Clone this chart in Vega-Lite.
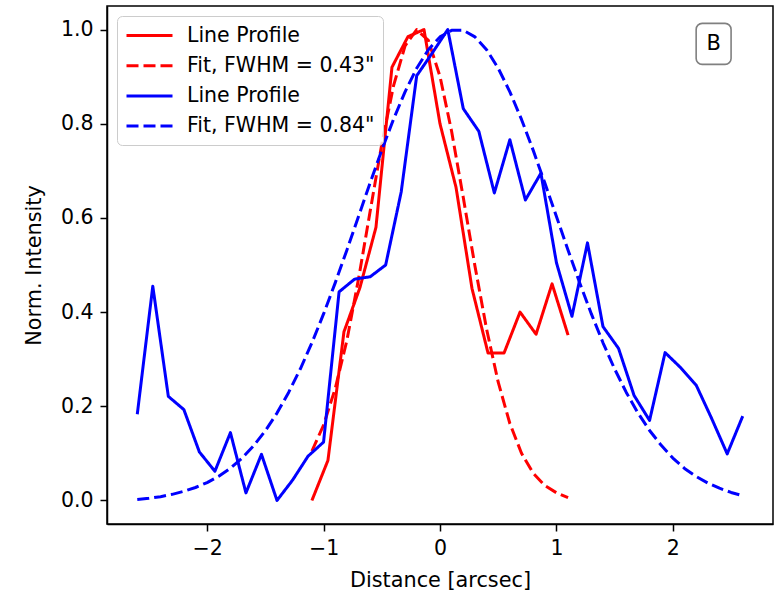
{
  "$schema": "https://vega.github.io/schema/vega-lite/v6.json",
  "width": 666,
  "height": 518,
  "autosize": {"type": "none"},
  "padding": {"left": 107, "top": 6, "right": 8, "bottom": 72},
  "background": "white",
  "config": {
    "view": {"stroke": "black", "strokeWidth": 1.5},
    "font": "DejaVu Sans",
    "axis": {
      "grid": false,
      "domainColor": "black",
      "domainWidth": 1.5,
      "tickColor": "black",
      "tickWidth": 1.5,
      "tickSize": 7,
      "labelColor": "black",
      "titleColor": "black",
      "labelFont": "DejaVu Sans",
      "titleFont": "DejaVu Sans",
      "labelFontSize": 20.5,
      "titleFontSize": 20.8,
      "titleFontWeight": "normal",
      "labelPadding": 7
    },
    "legend": {"rowPadding": 8.2}
  },
  "layer": [
    {
      "data": {
        "values": [
          {"s": "1", "x": -1.1, "y": 0.0},
          {"s": "1", "x": -0.9625, "y": 0.085},
          {"s": "1", "x": -0.825, "y": 0.358},
          {"s": "1", "x": -0.6875, "y": 0.452},
          {"s": "1", "x": -0.55, "y": 0.58},
          {"s": "1", "x": -0.4125, "y": 0.92},
          {"s": "1", "x": -0.275, "y": 0.985},
          {"s": "1", "x": -0.1375, "y": 1.0},
          {"s": "1", "x": 0.0, "y": 0.8},
          {"s": "1", "x": 0.1375, "y": 0.665},
          {"s": "1", "x": 0.275, "y": 0.45},
          {"s": "1", "x": 0.4125, "y": 0.313},
          {"s": "1", "x": 0.55, "y": 0.313},
          {"s": "1", "x": 0.6875, "y": 0.4},
          {"s": "1", "x": 0.825, "y": 0.353},
          {"s": "1", "x": 0.9625, "y": 0.46},
          {"s": "1", "x": 1.1, "y": 0.351},

          {"s": "2", "x": -1.1, "y": 0.105},
          {"s": "2", "x": -1.0, "y": 0.16},
          {"s": "2", "x": -0.9, "y": 0.2375},
          {"s": "2", "x": -0.8, "y": 0.3396},
          {"s": "2", "x": -0.7, "y": 0.47},
          {"s": "2", "x": -0.6, "y": 0.6139},
          {"s": "2", "x": -0.5, "y": 0.7566},
          {"s": "2", "x": -0.4, "y": 0.8798},
          {"s": "2", "x": -0.3, "y": 0.9655},
          {"s": "2", "x": -0.2, "y": 0.9997},
          {"s": "2", "x": -0.1, "y": 0.9768},
          {"s": "2", "x": 0.0, "y": 0.9005},
          {"s": "2", "x": 0.1, "y": 0.7834},
          {"s": "2", "x": 0.2, "y": 0.6431},
          {"s": "2", "x": 0.3, "y": 0.4981},
          {"s": "2", "x": 0.4, "y": 0.3641},
          {"s": "2", "x": 0.5, "y": 0.2511},
          {"s": "2", "x": 0.6, "y": 0.1634},
          {"s": "2", "x": 0.7, "y": 0.1003},
          {"s": "2", "x": 0.8, "y": 0.0581},
          {"s": "2", "x": 0.9, "y": 0.0318},
          {"s": "2", "x": 1.0, "y": 0.0164},
          {"s": "2", "x": 1.1, "y": 0.006},

          {"s": "3", "x": -2.6, "y": 0.183},
          {"s": "3", "x": -2.4667, "y": 0.455},
          {"s": "3", "x": -2.3333, "y": 0.221},
          {"s": "3", "x": -2.2, "y": 0.193},
          {"s": "3", "x": -2.0667, "y": 0.103},
          {"s": "3", "x": -1.9333, "y": 0.062},
          {"s": "3", "x": -1.8, "y": 0.144},
          {"s": "3", "x": -1.6667, "y": 0.016},
          {"s": "3", "x": -1.5333, "y": 0.098},
          {"s": "3", "x": -1.4, "y": 0.0},
          {"s": "3", "x": -1.2667, "y": 0.043},
          {"s": "3", "x": -1.1333, "y": 0.094},
          {"s": "3", "x": -1.0, "y": 0.124},
          {"s": "3", "x": -0.8667, "y": 0.443},
          {"s": "3", "x": -0.7333, "y": 0.47},
          {"s": "3", "x": -0.6, "y": 0.475},
          {"s": "3", "x": -0.4667, "y": 0.5},
          {"s": "3", "x": -0.3333, "y": 0.655},
          {"s": "3", "x": -0.2, "y": 0.902},
          {"s": "3", "x": -0.0667, "y": 0.95},
          {"s": "3", "x": 0.0667, "y": 1.0},
          {"s": "3", "x": 0.2, "y": 0.832},
          {"s": "3", "x": 0.3333, "y": 0.784},
          {"s": "3", "x": 0.4667, "y": 0.653},
          {"s": "3", "x": 0.6, "y": 0.766},
          {"s": "3", "x": 0.7333, "y": 0.638},
          {"s": "3", "x": 0.8667, "y": 0.695},
          {"s": "3", "x": 1.0, "y": 0.505},
          {"s": "3", "x": 1.1333, "y": 0.391},
          {"s": "3", "x": 1.2667, "y": 0.547},
          {"s": "3", "x": 1.4, "y": 0.369},
          {"s": "3", "x": 1.5333, "y": 0.323},
          {"s": "3", "x": 1.6667, "y": 0.223},
          {"s": "3", "x": 1.8, "y": 0.17},
          {"s": "3", "x": 1.9333, "y": 0.314},
          {"s": "3", "x": 2.0667, "y": 0.282},
          {"s": "3", "x": 2.2, "y": 0.245},
          {"s": "3", "x": 2.3333, "y": 0.174},
          {"s": "3", "x": 2.4667, "y": 0.099},
          {"s": "3", "x": 2.6, "y": 0.179},

          {"s": "4", "x": -2.6, "y": 0.002},
          {"s": "4", "x": -2.5, "y": 0.0045},
          {"s": "4", "x": -2.4, "y": 0.008},
          {"s": "4", "x": -2.3, "y": 0.013},
          {"s": "4", "x": -2.2, "y": 0.0195},
          {"s": "4", "x": -2.1, "y": 0.0275},
          {"s": "4", "x": -2.0, "y": 0.038},
          {"s": "4", "x": -1.9, "y": 0.0515},
          {"s": "4", "x": -1.8, "y": 0.0685},
          {"s": "4", "x": -1.7, "y": 0.09},
          {"s": "4", "x": -1.6, "y": 0.1165},
          {"s": "4", "x": -1.5, "y": 0.148},
          {"s": "4", "x": -1.4, "y": 0.1855},
          {"s": "4", "x": -1.3, "y": 0.2294},
          {"s": "4", "x": -1.2, "y": 0.2791},
          {"s": "4", "x": -1.1, "y": 0.3348},
          {"s": "4", "x": -1.0, "y": 0.3961},
          {"s": "4", "x": -0.9, "y": 0.462},
          {"s": "4", "x": -0.8, "y": 0.5315},
          {"s": "4", "x": -0.7, "y": 0.603},
          {"s": "4", "x": -0.6, "y": 0.6744},
          {"s": "4", "x": -0.5, "y": 0.7439},
          {"s": "4", "x": -0.4, "y": 0.8091},
          {"s": "4", "x": -0.3, "y": 0.8678},
          {"s": "4", "x": -0.2, "y": 0.9178},
          {"s": "4", "x": -0.1, "y": 0.9572},
          {"s": "4", "x": 0.0, "y": 0.9844},
          {"s": "4", "x": 0.1, "y": 0.9983},
          {"s": "4", "x": 0.2, "y": 0.9983},
          {"s": "4", "x": 0.3, "y": 0.9844},
          {"s": "4", "x": 0.4, "y": 0.9572},
          {"s": "4", "x": 0.5, "y": 0.9178},
          {"s": "4", "x": 0.6, "y": 0.8678},
          {"s": "4", "x": 0.7, "y": 0.8091},
          {"s": "4", "x": 0.8, "y": 0.7439},
          {"s": "4", "x": 0.9, "y": 0.6744},
          {"s": "4", "x": 1.0, "y": 0.603},
          {"s": "4", "x": 1.1, "y": 0.5315},
          {"s": "4", "x": 1.2, "y": 0.462},
          {"s": "4", "x": 1.3, "y": 0.3961},
          {"s": "4", "x": 1.4, "y": 0.3348},
          {"s": "4", "x": 1.5, "y": 0.2791},
          {"s": "4", "x": 1.6, "y": 0.2294},
          {"s": "4", "x": 1.7, "y": 0.1859},
          {"s": "4", "x": 1.8, "y": 0.1486},
          {"s": "4", "x": 1.9, "y": 0.1171},
          {"s": "4", "x": 2.0, "y": 0.09},
          {"s": "4", "x": 2.1, "y": 0.068},
          {"s": "4", "x": 2.2, "y": 0.051},
          {"s": "4", "x": 2.3, "y": 0.037},
          {"s": "4", "x": 2.4, "y": 0.026},
          {"s": "4", "x": 2.5, "y": 0.017},
          {"s": "4", "x": 2.6, "y": 0.01}
        ]
      },
      "mark": {"type": "line", "strokeWidth": 3, "strokeCap": "butt", "strokeJoin": "round"},
      "encoding": {
        "x": {
          "field": "x", "type": "quantitative",
          "scale": {"domain": [-2.86, 2.86], "nice": false, "zero": false},
          "axis": {"title": "Distance [arcsec]", "values": [-2, -1, 0, 1, 2], "format": "d", "titlePadding": 12}
        },
        "y": {
          "field": "y", "type": "quantitative",
          "scale": {"domain": [-0.05, 1.05], "nice": false, "zero": false},
          "axis": {"title": "Norm. Intensity", "values": [0, 0.2, 0.4, 0.6, 0.8, 1.0], "format": ".1f", "titlePadding": 16}
        },
        "color": {
          "field": "s", "type": "nominal",
          "scale": {"domain": ["1", "2", "3", "4"], "range": ["#ff0000", "#ff0000", "#0000ff", "#0000ff"]},
          "legend": {
            "title": null,
            "orient": "none",
            "legendX": 10,
            "legendY": 10,
            "fillColor": "rgba(255,255,255,0.8)",
            "strokeColor": "#cccccc",
            "cornerRadius": 5,
            "padding": 8,
            "symbolType": "M-1,0H3.6",
            "symbolSize": 400,
            "symbolStrokeWidth": 3,
            "labelFont": "DejaVu Sans",
            "labelFontSize": 20.5,
            "labelColor": "black",
            "labelOffset": 39,
            "labelLimit": 400,
            "labelExpr": "datum.label == '1' || datum.label == '3' ? 'Line Profile' : (datum.label == '2' ? 'Fit, FWHM = 0.43\"' : 'Fit, FWHM = 0.84\"')"
          }
        },
        "strokeDash": {
          "field": "s", "type": "nominal",
          "scale": {"domain": ["1", "2", "3", "4"], "range": [[1, 0], [12, 5], [1, 0], [12, 5]]},
          "legend": {
            "title": null,
            "orient": "none",
            "legendX": 10,
            "legendY": 10,
            "fillColor": "rgba(255,255,255,0.8)",
            "strokeColor": "#cccccc",
            "cornerRadius": 5,
            "padding": 8,
            "symbolType": "M-1,0H3.6",
            "symbolSize": 400,
            "symbolStrokeWidth": 3,
            "labelFont": "DejaVu Sans",
            "labelFontSize": 20.5,
            "labelColor": "black",
            "labelOffset": 39,
            "labelLimit": 400,
            "labelExpr": "datum.label == '1' || datum.label == '3' ? 'Line Profile' : (datum.label == '2' ? 'Fit, FWHM = 0.43\"' : 'Fit, FWHM = 0.84\"')"
          }
        }
      }
    },
    {
      "data": {"values": [{"x1": 2.2, "x2": 2.5, "y1": 0.926, "y2": 1.013, "label": "B", "xm": 2.35, "ym": 0.969}]},
      "layer": [
        {
          "mark": {"type": "rect", "fill": "white", "stroke": "#808080", "strokeWidth": 1.6, "cornerRadius": 6},
          "encoding": {
            "x": {"field": "x1", "type": "quantitative"},
            "x2": {"field": "x2"},
            "y": {"field": "y1", "type": "quantitative"},
            "y2": {"field": "y2"}
          }
        },
        {
          "mark": {"type": "text", "font": "DejaVu Sans", "fontSize": 21, "color": "black", "align": "center", "baseline": "middle"},
          "encoding": {
            "x": {"field": "xm", "type": "quantitative"},
            "y": {"field": "ym", "type": "quantitative"},
            "text": {"field": "label"}
          }
        }
      ]
    }
  ]
}
